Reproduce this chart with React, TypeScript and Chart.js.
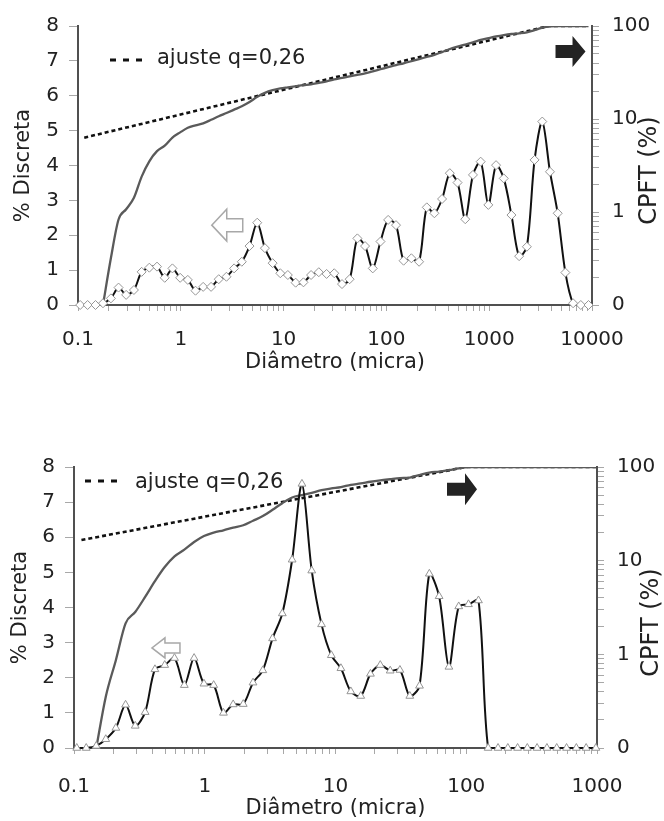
import React, { useEffect, useRef } from 'react';
import { Chart, registerables } from 'chart.js';

Chart.register(...registerables);

// ---------------- data ----------------
// Particle size classes (micra)
const topSizes = [
  0.105, 0.124, 0.148, 0.175, 0.209, 0.248, 0.294, 0.35, 0.416, 0.494, 0.587, 0.698, 0.829, 0.986,
  1.17, 1.39, 1.65, 1.97, 2.34, 2.78, 3.3, 3.92, 4.66, 5.54, 6.58, 7.82, 9.29,
  11.0, 13.1, 15.6, 18.5, 22.0, 26.2, 31.1, 37.0, 43.9, 52.2, 62.0, 73.7, 87.6,
  104, 124, 147, 175, 208, 247, 293, 348, 414, 492, 585, 695, 826,
  981, 1166, 1385, 1646, 1956, 2325, 2763, 3283, 3902, 4637, 5510, 6548, 7782, 9249,
];
// % Discreta (left axis)
const topDiscrete = [
  0, 0, 0, 0.05, 0.19, 0.5, 0.29, 0.43, 0.95, 1.07, 1.1, 0.78, 1.05, 0.78, 0.72, 0.41, 0.52, 0.52,
  0.74, 0.81, 1.05, 1.24, 1.69, 2.36, 1.63, 1.2, 0.91, 0.86, 0.64, 0.65, 0.86, 0.94, 0.89, 0.91,
  0.6, 0.74, 1.91, 1.69, 1.05, 1.82, 2.44, 2.29, 1.27, 1.34, 1.24, 2.8, 2.63, 3.04, 3.78, 3.51,
  2.46, 3.73, 4.11, 2.87, 4.01, 3.63, 2.58, 1.4, 1.67, 4.16, 5.26, 3.82, 2.63, 0.93, 0.05, 0, 0,
];
// CPFT % (right axis, log)
const topCpft = [
  null, null, null, 0.1, 0.32, 0.83, 1.07, 1.42, 2.4, 3.51, 4.51, 5.17, 6.31, 7.18, 8.04, 8.54,
  8.99, 9.8, 10.7, 11.6, 12.6, 13.7, 15.2, 17.3, 19.1, 20.4, 21.3, 21.9, 22.5, 23.1, 23.6, 24.5,
  25.4, 26.7, 27.6, 28.8, 29.9, 30.9, 32.6, 34.3, 36.1, 38.0, 39.7, 41.8, 44.1, 46.4, 48.9, 52.4,
  56.6, 60.1, 63.2, 66.7, 70.8, 74.0, 77.2, 79.9, 82.0, 83.4, 85.6, 90.2, 95.8, 99.1,
  100, 100, 100, 100, 100,
];
const topFitSizes = [0.115, 3800, 9250];
const topFitCpft = [6.3, 100, 100];
const topXTickValues = [0.1, 1, 10, 100, 1000, 10000];
const topXTickLabels = ['0.1', '1', '10', '100', '1000', '10000'];

const bottomSizes = [
  0.105, 0.124, 0.148, 0.175, 0.209, 0.248, 0.294, 0.35, 0.416, 0.494, 0.587, 0.698, 0.829, 0.986,
  1.17, 1.39, 1.65, 1.97, 2.34, 2.78, 3.3, 3.92, 4.66, 5.54, 6.58, 7.82, 9.29,
  11.0, 13.1, 15.6, 18.5, 22.0, 26.2, 31.1, 37.0, 43.9, 52.2, 62.0, 73.7, 87.6,
  104, 124, 147, 175, 208, 247, 293, 348, 414, 492, 585, 695, 826, 981,
];
const bottomDiscrete = [
  0, 0, 0.06, 0.25, 0.57, 1.23, 0.63, 1.02, 2.24, 2.36, 2.56, 1.79, 2.56, 1.83, 1.79, 1.0, 1.24,
  1.25, 1.86, 2.21, 3.12, 3.83, 5.36, 7.52, 5.05, 3.52, 2.64, 2.27, 1.61, 1.48, 2.11, 2.36, 2.2,
  2.22, 1.48, 1.77, 4.96, 4.32, 2.31, 4.03, 4.09, 4.2, 0, 0, 0, 0, 0, 0, 0, 0, 0, 0, 0, 0,
];
const bottomCpft = [
  null, null, 0.1, 0.353, 0.866, 2.14, 2.83, 4.1, 6.04, 8.54, 11.1, 13.1, 15.8, 18.3, 19.9, 21.1,
  22.5, 23.9, 26.7, 29.9, 34.9, 41.1, 47.2, 50.1, 52.8, 56.6, 59.0, 61.1, 64.4, 66.7, 69.6, 72.0,
  74.0, 75.9, 77.2, 82.0, 87.1, 89.4, 92.5, 96.6,
  100, 100, 100, 100, 100, 100, 100, 100, 100, 100, 100, 100, 100, 100,
];
const bottomFitSizes = [0.114, 100, 981];
const bottomFitCpft = [16.6, 100, 100];
const bottomXTickValues = [0.1, 1, 10, 100, 1000];
const bottomXTickLabels = ['0.1', '1', '10', '100', '1000'];

const leftTickValues = [0, 1, 2, 3, 4, 5, 6, 7, 8];
const rightTickValues = [0.1, 1, 10, 100];
const rightTickLabels = ['0', '1', '10', '100'];

const xTitle = 'Diâmetro (micra)';
const leftTitle = '% Discreta';
const rightTitle = 'CPFT (%)';
const fitLabel = 'ajuste q=0,26';

// ---------------- helpers ----------------
const FAMILY = 'DejaVu Sans';
const TEXT = '#222';

function withMinors(majors: number[]): number[] {
  const out: number[] = [];
  for (let i = 0; i < majors.length - 1; i++) {
    for (let m = 1; m <= 9; m++) out.push(majors[i] * m);
  }
  out.push(majors[majors.length - 1]);
  return out;
}

function blockArrow(
  ctx: CanvasRenderingContext2D,
  cx: number,
  cy: number,
  len: number,
  h: number,
  shaftH: number,
  headLen: number,
  dir: number,
  filled: boolean
) {
  const x0 = cx - (dir * len) / 2;
  const x1 = cx + (dir * len) / 2;
  const hb = x1 - dir * headLen;
  ctx.save();
  ctx.beginPath();
  ctx.moveTo(x0, cy - shaftH / 2);
  ctx.lineTo(hb, cy - shaftH / 2);
  ctx.lineTo(hb, cy - h / 2);
  ctx.lineTo(x1, cy);
  ctx.lineTo(hb, cy + h / 2);
  ctx.lineTo(hb, cy + shaftH / 2);
  ctx.lineTo(x0, cy + shaftH / 2);
  ctx.closePath();
  if (filled) {
    ctx.fillStyle = '#232323';
    ctx.fill();
  } else {
    ctx.fillStyle = '#ffffff';
    ctx.fill();
    ctx.strokeStyle = '#a8a8a8';
    ctx.lineWidth = 1.5;
    ctx.stroke();
  }
  ctx.restore();
}

type ArrowCfg = { x: number; y: number; len: number; h: number; shaftH: number; headLen: number; dir: number; filled: boolean };

type PanelCfg = {
  height: number;
  padTop: number;
  leftW: number;
  rightW: number;
  xH: number;
  sizes: number[];
  discrete: number[];
  cpft: (number | null)[];
  fitX: number[];
  fitY: number[];
  xTicks: number[];
  xLabels: string[];
  pointStyle: string;
  pointRadius: number;
  xLabelPad: number;
  xTitlePadBottom: number;
  leftTitlePad: number;
  rightTitleDx: number;
  rightTitleDy: number;
  legend: { dx0: number; dx1: number; dy: number; tx: number; ty: number };
  arrows: ArrowCfg[];
};

function Panel({ cfg }: { cfg: PanelCfg }) {
  const ref = useRef<HTMLCanvasElement | null>(null);

  useEffect(() => {
    const canvas = ref.current;
    if (!canvas) return;

    const overlay = {
      id: 'overlay',
      afterDraw(chart: any) {
        const ctx: CanvasRenderingContext2D = chart.ctx;
        const area = chart.chartArea;
        const xs = chart.scales.x;
        const ys = chart.scales.y;

        // legend for the fit line
        ctx.save();
        ctx.strokeStyle = '#111';
        ctx.lineWidth = 3;
        ctx.setLineDash([6, 7]);
        ctx.beginPath();
        ctx.moveTo(area.left + cfg.legend.dx0, area.top + cfg.legend.dy);
        ctx.lineTo(area.left + cfg.legend.dx1, area.top + cfg.legend.dy);
        ctx.stroke();
        ctx.setLineDash([]);
        ctx.fillStyle = TEXT;
        ctx.font = `21px "${FAMILY}"`;
        ctx.textAlign = 'left';
        ctx.textBaseline = 'alphabetic';
        ctx.fillText(fitLabel, area.left + cfg.legend.tx, area.top + cfg.legend.ty);
        ctx.restore();

        // arrows pointing to the axis of each curve
        for (const a of cfg.arrows) {
          blockArrow(ctx, xs.getPixelForValue(a.x), ys.getPixelForValue(a.y), a.len, a.h, a.shaftH, a.headLen, a.dir, a.filled);
        }

        // right axis title (reads bottom to top)
        ctx.save();
        ctx.translate(area.right + cfg.rightTitleDx, (area.top + area.bottom) / 2 + cfg.rightTitleDy);
        ctx.rotate(-Math.PI / 2);
        ctx.fillStyle = TEXT;
        ctx.font = `24px "${FAMILY}"`;
        ctx.textAlign = 'center';
        ctx.textBaseline = 'middle';
        ctx.fillText(rightTitle, 0, 0);
        ctx.restore();
      },
    };

    const xMajors = cfg.xTicks;
    const xAll = withMinors(xMajors);
    const yRightAll = withMinors(rightTickValues);

    const chart = new Chart(canvas, {
      type: 'line',
      data: {
        datasets: [
          {
            label: leftTitle,
            data: cfg.sizes.map((x, i) => ({ x, y: cfg.discrete[i] })),
            yAxisID: 'y',
            borderColor: '#111',
            borderWidth: 2,
            tension: 0.3,
            pointStyle: cfg.pointStyle as any,
            pointRadius: cfg.pointRadius,
            pointBackgroundColor: '#ffffff',
            pointBorderColor: '#959595',
            pointBorderWidth: 1,
            clip: false,
          },
          {
            label: rightTitle,
            data: cfg.sizes.map((x, i) => ({ x, y: cfg.cpft[i] })),
            yAxisID: 'y2',
            borderColor: '#5a5a5a',
            borderWidth: 2.3,
            pointRadius: 0,
            cubicInterpolationMode: 'monotone',
            spanGaps: false,
          },
          {
            label: fitLabel,
            data: cfg.fitX.map((x, i) => ({ x, y: cfg.fitY[i] })),
            yAxisID: 'y2',
            borderColor: '#111',
            borderWidth: 2.6,
            borderDash: [4, 3],
            pointRadius: 0,
          },
        ] as any,
      },
      options: {
        responsive: false,
        animation: false,
        devicePixelRatio: 1,
        layout: { padding: { top: cfg.padTop, left: 0, right: 0, bottom: 0 } },
        plugins: { legend: { display: false }, tooltip: { enabled: false } },
        scales: {
          x: {
            type: 'logarithmic',
            position: 'bottom',
            min: xMajors[0],
            max: xMajors[xMajors.length - 1],
            afterBuildTicks: (s: any) => {
              s.ticks = xAll.map((v) => ({ value: v }));
            },
            afterFit: (s: any) => {
              s.height = cfg.xH;
            },
            ticks: {
              autoSkip: false,
              maxRotation: 0,
              minRotation: 0,
              padding: cfg.xLabelPad,
              color: TEXT,
              font: { family: FAMILY, size: 20 },
              callback: (v: any) => {
                const k = xMajors.indexOf(Number(v));
                return k >= 0 ? cfg.xLabels[k] : '';
              },
            },
            grid: { drawOnChartArea: false, drawTicks: true, tickLength: 6, tickColor: '#a8a8a8', tickWidth: 1 },
            border: { display: true, color: '#505050', width: 2 },
            title: {
              display: true,
              text: xTitle,
              color: TEXT,
              font: { family: FAMILY, size: 21 },
              padding: { top: 0, bottom: cfg.xTitlePadBottom },
            },
          },
          y: {
            type: 'linear',
            position: 'left',
            min: 0,
            max: 8,
            afterBuildTicks: (s: any) => {
              s.ticks = leftTickValues.map((v) => ({ value: v }));
            },
            afterFit: (s: any) => {
              s.width = cfg.leftW;
            },
            ticks: { padding: 10, color: TEXT, font: { family: FAMILY, size: 20 } },
            grid: { drawOnChartArea: false, drawTicks: true, tickLength: 9, tickColor: '#a8a8a8', tickWidth: 1 },
            border: { display: true, color: '#505050', width: 2 },
            title: {
              display: true,
              text: leftTitle,
              color: TEXT,
              font: { family: FAMILY, size: 21 },
              padding: { top: cfg.leftTitlePad, bottom: 0 },
            },
          },
          y2: {
            type: 'logarithmic',
            position: 'right',
            min: rightTickValues[0],
            max: rightTickValues[rightTickValues.length - 1],
            afterBuildTicks: (s: any) => {
              s.ticks = yRightAll.map((v) => ({ value: v }));
            },
            afterFit: (s: any) => {
              s.width = cfg.rightW;
            },
            ticks: {
              autoSkip: false,
              padding: 13,
              color: TEXT,
              font: { family: FAMILY, size: 20 },
              callback: (v: any) => {
                const k = rightTickValues.indexOf(Number(v));
                return k >= 0 ? rightTickLabels[k] : '';
              },
            },
            grid: { drawOnChartArea: false, drawTicks: true, tickLength: 7, tickColor: '#a8a8a8', tickWidth: 1 },
            border: { display: true, color: '#505050', width: 2 },
          },
        },
      } as any,
      plugins: [overlay],
    });

    return () => chart.destroy();
  }, [cfg]);

  return (
    <canvas
      ref={ref}
      width={664}
      height={cfg.height}
      style={{ display: 'block', width: 664, height: cfg.height }}
    />
  );
}

const topCfg: PanelCfg = {
  height: 400,
  padTop: 26,
  leftW: 78,
  rightW: 72,
  xH: 95,
  sizes: topSizes,
  discrete: topDiscrete,
  cpft: topCpft,
  fitX: topFitSizes,
  fitY: topFitCpft,
  xTicks: topXTickValues,
  xLabels: topXTickLabels,
  pointStyle: 'rectRot',
  pointRadius: 4.5,
  xLabelPad: 17,
  xTitlePadBottom: 25,
  leftTitlePad: 11,
  rightTitleDx: 58,
  rightTitleDy: 5,
  legend: { dx0: 32, dx1: 65, dy: 34, tx: 79, ty: 38 },
  arrows: [
    { x: 2.83, y: 2.29, len: 31, h: 32, shaftH: 13, headLen: 15, dir: -1, filled: false },
    { x: 6180, y: 7.27, len: 30, h: 31, shaftH: 13, headLen: 13, dir: 1, filled: true },
  ],
};

const bottomCfg: PanelCfg = {
  height: 421,
  padTop: 67,
  leftW: 74,
  rightW: 67,
  xH: 73,
  sizes: bottomSizes,
  discrete: bottomDiscrete,
  cpft: bottomCpft,
  fitX: bottomFitSizes,
  fitY: bottomFitCpft,
  xTicks: bottomXTickValues,
  xLabels: bottomXTickLabels,
  pointStyle: 'triangle',
  pointRadius: 4.5,
  xLabelPad: 21,
  xTitlePadBottom: 0,
  leftTitlePad: 8,
  rightTitleDx: 55,
  rightTitleDy: 15,
  legend: { dx0: 11, dx1: 44, dy: 14, tx: 61, ty: 21 },
  arrows: [
    { x: 0.505, y: 2.85, len: 28, h: 20, shaftH: 10, headLen: 13, dir: -1, filled: false },
    { x: 92.8, y: 7.37, len: 30, h: 32, shaftH: 13, headLen: 12, dir: 1, filled: true },
  ],
};

export default function App() {
  return (
    <div style={{ position: 'absolute', left: 0, top: 0, width: 664, height: 821, background: '#fff' }}>
      <Panel cfg={topCfg} />
      <Panel cfg={bottomCfg} />
    </div>
  );
}
